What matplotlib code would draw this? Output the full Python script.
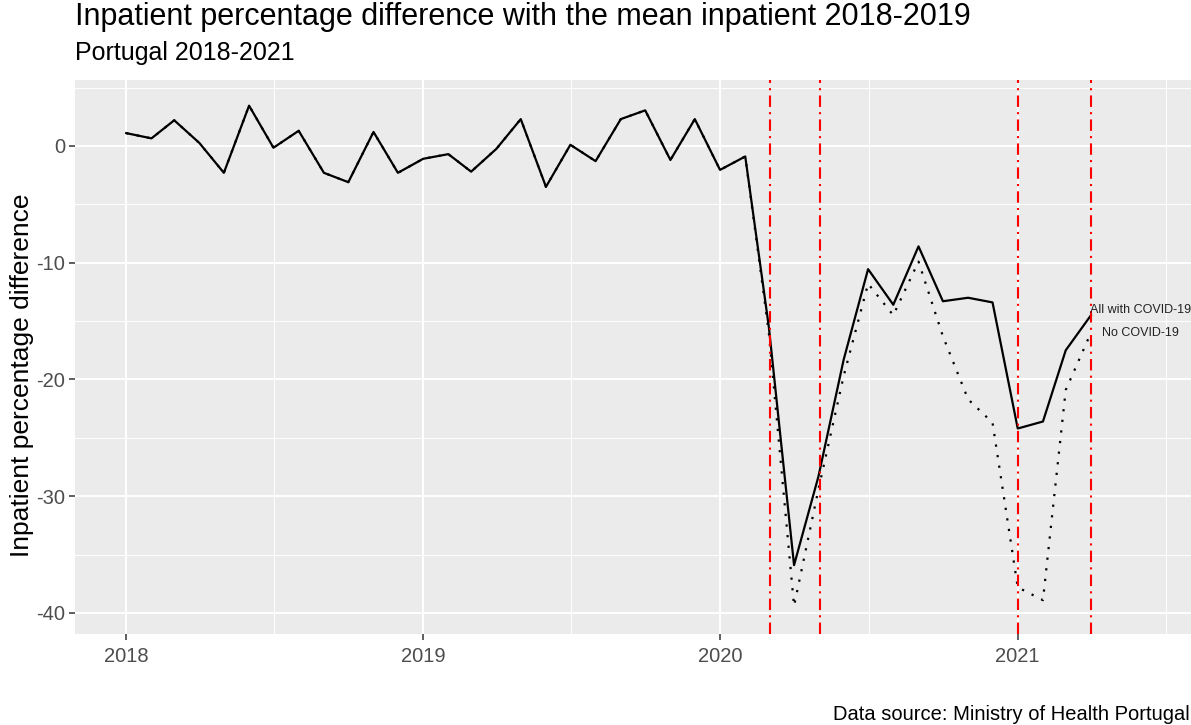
import matplotlib
matplotlib.use("Agg")
import matplotlib.pyplot as plt
import numpy as np

plt.rcParams['font.family'] = ['Liberation Sans', 'DejaVu Sans']

# monthly values, Jan 2018 .. Apr 2021
months = np.arange('2018-01', '2021-05', dtype='datetime64[M]').astype('datetime64[D]')

all_covid = [1.1, 0.65, 2.2, 0.25, -2.3, 3.45, -0.15, 1.3, -2.3, -3.1, 1.2, -2.3,
             -1.1, -0.7, -2.2, -0.25, 2.3, -3.5, 0.1, -1.3, 2.3, 3.05, -1.2, 2.3,
             -2.05, -0.9, -15.5, -35.9, -28.3, -18.3, -10.55, -13.6, -8.6, -13.3, -13.0, -13.4,
             -24.2, -23.6, -17.5, -14.5]

no_covid = [1.1, 0.65, 2.2, 0.25, -2.3, 3.45, -0.15, 1.3, -2.3, -3.1, 1.2, -2.3,
            -1.1, -0.7, -2.2, -0.25, 2.3, -3.5, 0.1, -1.3, 2.3, 3.05, -1.2, 2.3,
            -2.05, -0.9, -16.0, -39.4, -29.4, -19.7, -11.8, -14.5, -9.9, -16.3, -21.7, -23.7,
            -37.8, -38.9, -20.9, -16.0]

events = np.array(['2020-03-02', '2020-05-03', '2021-01-01', '2021-04-01'], dtype='datetime64[D]')

year_ticks = np.array(['2018-01-01', '2019-01-01', '2020-01-01', '2021-01-01'], dtype='datetime64[D]')
year_labels = ['2018', '2019', '2020', '2021']
mid_years = np.array(['2018-07-02', '2019-07-02', '2020-07-02', '2021-07-02'], dtype='datetime64[D]')

fig = plt.figure(figsize=(11.91, 7.25), dpi=100)
ax = fig.add_axes([75 / 1191, (725 - 634) / 725, 1 - 75 / 1191, (634 - 80) / 725])
ax.set_facecolor('#EBEBEB')
for s in ax.spines.values():
    s.set_visible(False)

# grid
for m in mid_years:
    ax.axvline(m, color='white', lw=0.7, zorder=0)
for v in [5, -5, -15, -25, -35]:
    ax.axhline(v, color='white', lw=0.7, zorder=0)
ax.grid(True, which='major', color='white', lw=1.4, zorder=0)
ax.set_axisbelow(True)

ax.plot(months, no_covid, color='black', lw=1.6, ls=(0, (1, 3.8)), zorder=3)
ax.plot(months, all_covid, color='black', lw=1.6, zorder=4)

for e in events:
    ax.axvline(e, color='red', lw=1.5, ls=(0, (5.5, 2.5, 1, 2.5)), zorder=5)

ax.text(months[-1] - np.timedelta64(1, 'D'), -14.05, 'All with COVID-19',
        fontsize=9, color='#222222', ha='left', va='center', zorder=6)
ax.text(months[-1] + np.timedelta64(13, 'D'), -16.0, 'No COVID-19',
        fontsize=9, color='#222222', ha='left', va='center', zorder=6)

ax.set_xlim(np.datetime64('2017-10-30'), np.datetime64('2021-08-02'))
ax.set_ylim(-41.8, 5.65)
ax.set_xticks(year_ticks)
ax.set_xticklabels(year_labels)
ax.set_yticks([0, -10, -20, -30, -40])
ax.set_yticklabels(['0', '-10', '-20', '-30', '-40'])
ax.tick_params(colors='#333333', length=4, width=1.1, labelsize=14.5, labelcolor='#4D4D4D', pad=3)
ax.tick_params(axis='x', pad=5)

ax.set_ylabel('Inpatient percentage difference', fontsize=19)
ax.yaxis.set_label_coords(-0.0365, 0.467)

fig.text(75 / 1191, 1 - 17 / 725, 'Inpatient percentage difference with the mean inpatient 2018-2019',
         fontsize=22, ha='left', va='center')
fig.text(75 / 1191, 1 - 53 / 725, 'Portugal 2018-2021', fontsize=18, ha='left', va='center')
fig.text(1190 / 1191, 1 - 714 / 725, 'Data source: Ministry of Health Portugal',
         fontsize=14.5, ha='right', va='center')

fig.savefig('out.png', dpi=100)
